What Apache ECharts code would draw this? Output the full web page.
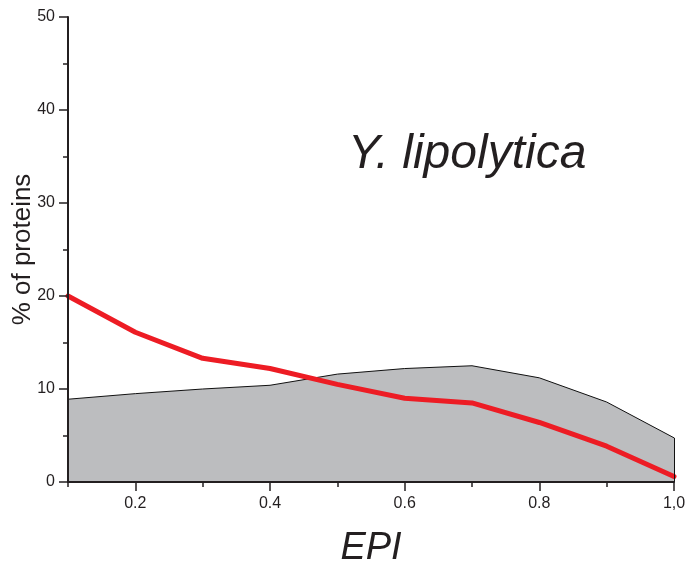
<!DOCTYPE html>
<html>
<head>
<meta charset="utf-8">
<script src="https://cdn.jsdelivr.net/npm/echarts@6/dist/echarts.min.js"></script>
<style>
  html, body { margin: 0; padding: 0; background: #fff; }
  #chart { width: 690px; height: 565px; }
</style>
</head>
<body>
<div id="chart"></div>
<script>
// EPI bins along the x axis
const epi = ['0.1', '0.2', '0.3', '0.4', '0.5', '0.6', '0.7', '0.8', '0.9', '1.0'];
// % of proteins per bin, shaded distribution
const greyArea = [8.9, 9.5, 10.0, 10.4, 11.6, 12.2, 12.5, 11.2, 8.6, 4.75];
// % of proteins per bin, red curve
const redLine = [20.0, 16.1, 13.3, 12.2, 10.5, 9.0, 8.5, 6.4, 3.85, 0.6];
// y axis labelled values
const yTicks = [0, 10, 20, 30, 40, 50];

const ink = '#231f20';
const font = 'Liberation Sans, Arial, sans-serif';

const chart = echarts.init(document.getElementById('chart'), null, { renderer: 'canvas' });

const fmtEpi = v => v === '1.0' ? '1,0' : v;
const lastIdx = epi.length - 1;

chart.setOption({
  animation: false,
  backgroundColor: '#ffffff',
  grid: { left: 68, right: 16, top: 17, bottom: 83, containLabel: false, outerBoundsMode: 'none' },
  title: {
    text: 'Y. lipolytica',
    left: 343, top: 126,
    textStyle: { fontFamily: font, fontStyle: 'italic', fontWeight: 'normal', fontSize: 48, color: '#231f20' }
  },
  xAxis: [
    {
      type: 'category', data: epi, boundaryGap: false,
      axisLine: { lineStyle: { color: ink, width: 2 } },
      axisTick: { show: true, interval: 0, length: 5, lineStyle: { color: ink, width: 1.5 } },
      axisLabel: { show: false },
      splitLine: { show: false },
      name: 'EPI', nameLocation: 'middle', nameGap: 47, nameMoveOverlap: false,
      nameTextStyle: { fontFamily: font, fontStyle: 'italic', fontSize: 38, color: '#231f20', verticalAlign: 'top' },
      z: 5
    },
    {
      type: 'category', data: epi, boundaryGap: false, position: 'bottom',
      axisLine: { show: false },
      axisTick: { show: true, interval: i => i % 2 === 1, length: 9, lineStyle: { color: ink, width: 1.5 } },
      axisLabel: {
        interval: i => i % 2 === 1, margin: 14,
        formatter: fmtEpi,
        fontFamily: font, fontSize: 16, color: '#231f20'
      },
      splitLine: { show: false },
      z: 5
    }
  ],
  yAxis: {
    type: 'value', min: 0, max: 50, interval: 10,
    axisLine: { show: true, lineStyle: { color: ink, width: 2 } },
    axisTick: { show: true, length: 9, lineStyle: { color: ink, width: 1.5 } },
    minorTick: { show: true, splitNumber: 2, length: 5, lineStyle: { color: ink, width: 1.5 } },
    axisLabel: {
      margin: 13,
      formatter: v => yTicks.includes(v) ? String(v) : '',
      fontFamily: font, fontSize: 16, color: '#231f20'
    },
    splitLine: { show: false },
    name: '% of proteins', nameLocation: 'middle', nameGap: 32, nameRotate: 90, nameMoveOverlap: false,
    nameTextStyle: { fontFamily: font, fontSize: 26, color: '#231f20' },
    z: 5
  },
  series: [
    {
      type: 'line', data: greyArea, xAxisIndex: 0,
      symbol: 'none',
      lineStyle: { color: '#111', width: 1 },
      areaStyle: { color: '#bcbdbf', opacity: 1 },
      markLine: {
        symbol: 'none', silent: true, label: { show: false },
        lineStyle: { color: '#111', width: 1, type: 'solid' },
        data: [[{ coord: [epi[lastIdx], greyArea[lastIdx]] }, { coord: [epi[lastIdx], 0] }]]
      },
      z: 2
    },
    {
      type: 'line', data: redLine, xAxisIndex: 0,
      symbol: 'none',
      lineStyle: { color: '#ed1c24', width: 5, cap: 'round', join: 'round' },
      z: 3
    }
  ]
});
</script>
</body>
</html>
